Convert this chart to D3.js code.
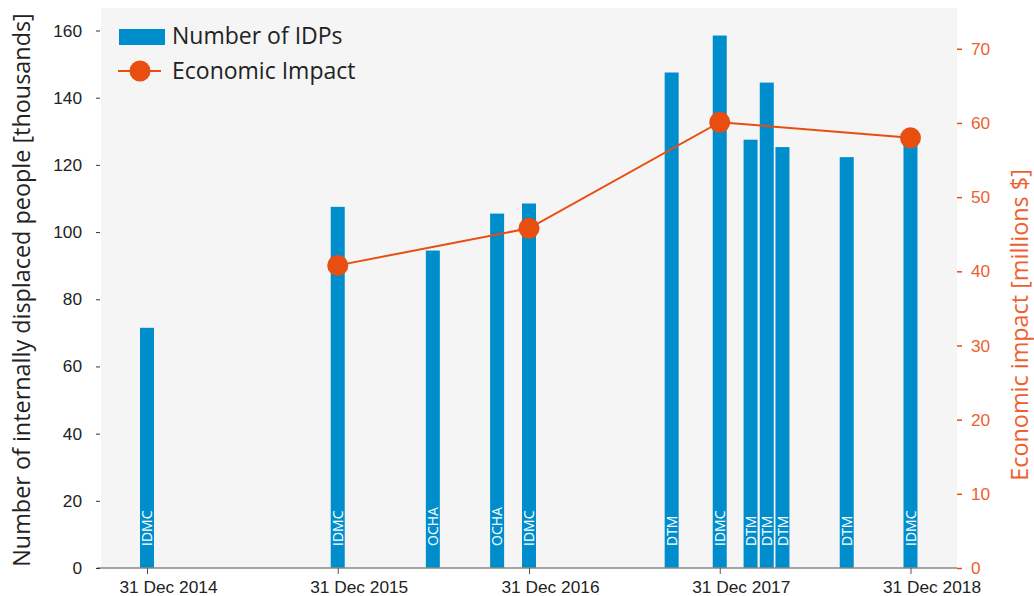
<!DOCTYPE html>
<meta charset="utf-8">
<style>
  body { margin: 0; background: #fff; }
  svg { font-family: "Open Sans", sans-serif; display: block; }
</style>
<body>
<svg width="1034" height="596"></svg>
<script src="https://d3js.org/d3.v7.min.js"></script>
<script>

// data
var idpDates   = ["2014-12-31","2015-12-31","2016-06-30","2016-10-31","2016-12-31","2017-09-30",
                  "2017-12-31","2018-02-28","2018-03-31","2018-04-30","2018-08-31","2018-12-31"];
var idpValues  = [71.5, 107.5, 94.5, 105.5, 108.5, 147.5, 158.5, 127.5, 144.5, 125.3, 122.3, 128];
var idpSources = ["IDMC","IDMC","OCHA","OCHA","IDMC","DTM","IDMC","DTM","DTM","DTM","DTM","IDMC"];

var impactDates  = ["2015-12-31","2016-12-31","2017-12-31","2018-12-31"];
var impactValues = [40.8, 45.8, 60.1, 58.0];

var xTickDates  = ["2014-12-31","2015-12-31","2016-12-31","2017-12-31","2018-12-31"];
var leftTicks   = [0, 20, 40, 60, 80, 100, 120, 140, 160];
var rightTicks  = [0, 10, 20, 30, 40, 50, 60, 70];

var blue = "#008dcb", orange = "#e84e10", orangeText = "#ee6030";

var svg = d3.select("svg"),
    plot = {left: 101, right: 957, top: 8, bottom: 568};

var parse = d3.utcParse("%Y-%m-%d"),
    fmt = d3.utcFormat("%d %b %Y");

var bars = idpDates.map(function(d, i) {
  return {date: parse(d), value: idpValues[i], source: idpSources[i]};
});
var impact = impactDates.map(function(d, i) {
  return {date: parse(d), value: impactValues[i]};
});

var x = d3.scaleUtc()
    .domain([parse("2014-10-04"), parse("2019-03-30")])
    .range([plot.left, plot.right]);
var yL = d3.scaleLinear().domain([0, 166.7]).range([plot.bottom, plot.top]);
var yR = d3.scaleLinear().domain([0, 75.5]).range([plot.bottom, plot.top]);

// background
svg.append("rect")
    .attr("x", plot.left).attr("y", plot.top)
    .attr("width", plot.right - plot.left).attr("height", plot.bottom - plot.top)
    .attr("fill", "#f5f5f5");

var barW = 14;

svg.append("g").selectAll("rect")
  .data(bars)
  .join("rect")
    .attr("x", function(d) { return x(d.date) - barW / 2; })
    .attr("y", function(d) { return yL(d.value); })
    .attr("width", barW)
    .attr("height", function(d) { return yL(0) - yL(d.value); })
    .attr("fill", blue);

// source labels inside the bars
svg.append("g").selectAll("text")
  .data(bars)
  .join("text")
    .attr("transform", function(d) { return "translate(" + x(d.date) + "," + (yL(0) - 22) + ")rotate(-90)"; })
    .attr("dy", "0.36em")
    .attr("font-size", 14)
    .attr("fill", "#fff")
    .text(function(d) { return d.source; });

// x axis
var xAxis = svg.append("g")
    .attr("transform", "translate(0," + plot.bottom + ")")
    .call(d3.axisBottom(x).tickValues(xTickDates.map(parse)).tickFormat(fmt).tickSize(6).tickSizeOuter(0));
xAxis.select(".domain").attr("stroke", "#888").attr("stroke-width", 1.5)
    .attr("d", "M" + (plot.left - 4) + ",0H" + plot.right);
xAxis.selectAll(".tick line").attr("stroke", "#555");
xAxis.selectAll(".tick text")
    .attr("font-size", 17.3).attr("fill", "#222")
    .attr("dx", 21).attr("dy", "0.95em");

// left axis
var leftAxis = svg.append("g")
    .attr("transform", "translate(" + plot.left + ",0)")
    .call(d3.axisLeft(yL).tickValues(leftTicks).tickSize(4).tickPadding(15));
leftAxis.select(".domain").remove();
leftAxis.selectAll(".tick line").attr("stroke", "#333").attr("transform", "translate(-1,0)");
leftAxis.selectAll(".tick text").attr("font-size", 17.3).attr("fill", "#222");

// right axis
var rightAxis = svg.append("g")
    .attr("transform", "translate(" + plot.right + ",0)")
    .call(d3.axisRight(yR).tickValues(rightTicks).tickSize(5).tickPadding(9));
rightAxis.select(".domain").remove();
rightAxis.selectAll(".tick line").attr("stroke", orange).attr("stroke-width", 1.5);
rightAxis.selectAll(".tick text").attr("font-size", 17.3).attr("fill", orangeText);

// economic impact line
var line = d3.line()
    .x(function(d) { return x(d.date); })
    .y(function(d) { return yR(d.value); });

svg.append("path")
    .datum(impact)
    .attr("fill", "none")
    .attr("stroke", orange)
    .attr("stroke-width", 2)
    .attr("d", line);

svg.append("g").selectAll("circle")
  .data(impact)
  .join("circle")
    .attr("cx", function(d) { return x(d.date); })
    .attr("cy", function(d) { return yR(d.value); })
    .attr("r", 10.5)
    .attr("fill", orange);

// axis titles
svg.append("text")
    .attr("transform", "translate(22," + ((plot.top + plot.bottom) / 2 + 2) + ")rotate(-90)")
    .attr("text-anchor", "middle")
    .attr("dy", "0.35em")
    .attr("font-size", 23.4)
    .attr("fill", "#222")
    .text("Number of internally displaced people [thousands]");

svg.append("text")
    .attr("transform", "translate(1020,325)rotate(-90)")
    .attr("text-anchor", "middle")
    .attr("dy", "0.35em")
    .attr("font-size", 23.4)
    .attr("fill", orangeText)
    .text("Economic impact [millions $]");

// legend
var legend = svg.append("g");
legend.append("rect")
    .attr("x", 119).attr("y", 29).attr("width", 46).attr("height", 16)
    .attr("fill", blue);
legend.append("text")
    .attr("x", 172).attr("y", 44)
    .attr("font-size", 23).attr("fill", "#222")
    .text("Number of IDPs");
legend.append("line")
    .attr("x1", 118).attr("x2", 161).attr("y1", 71).attr("y2", 71)
    .attr("stroke", orange).attr("stroke-width", 2);
legend.append("circle")
    .attr("cx", 140).attr("cy", 71).attr("r", 10.5)
    .attr("fill", orange);
legend.append("text")
    .attr("x", 172).attr("y", 79)
    .attr("font-size", 23).attr("fill", "#222")
    .text("Economic Impact");

</script>
</body>
